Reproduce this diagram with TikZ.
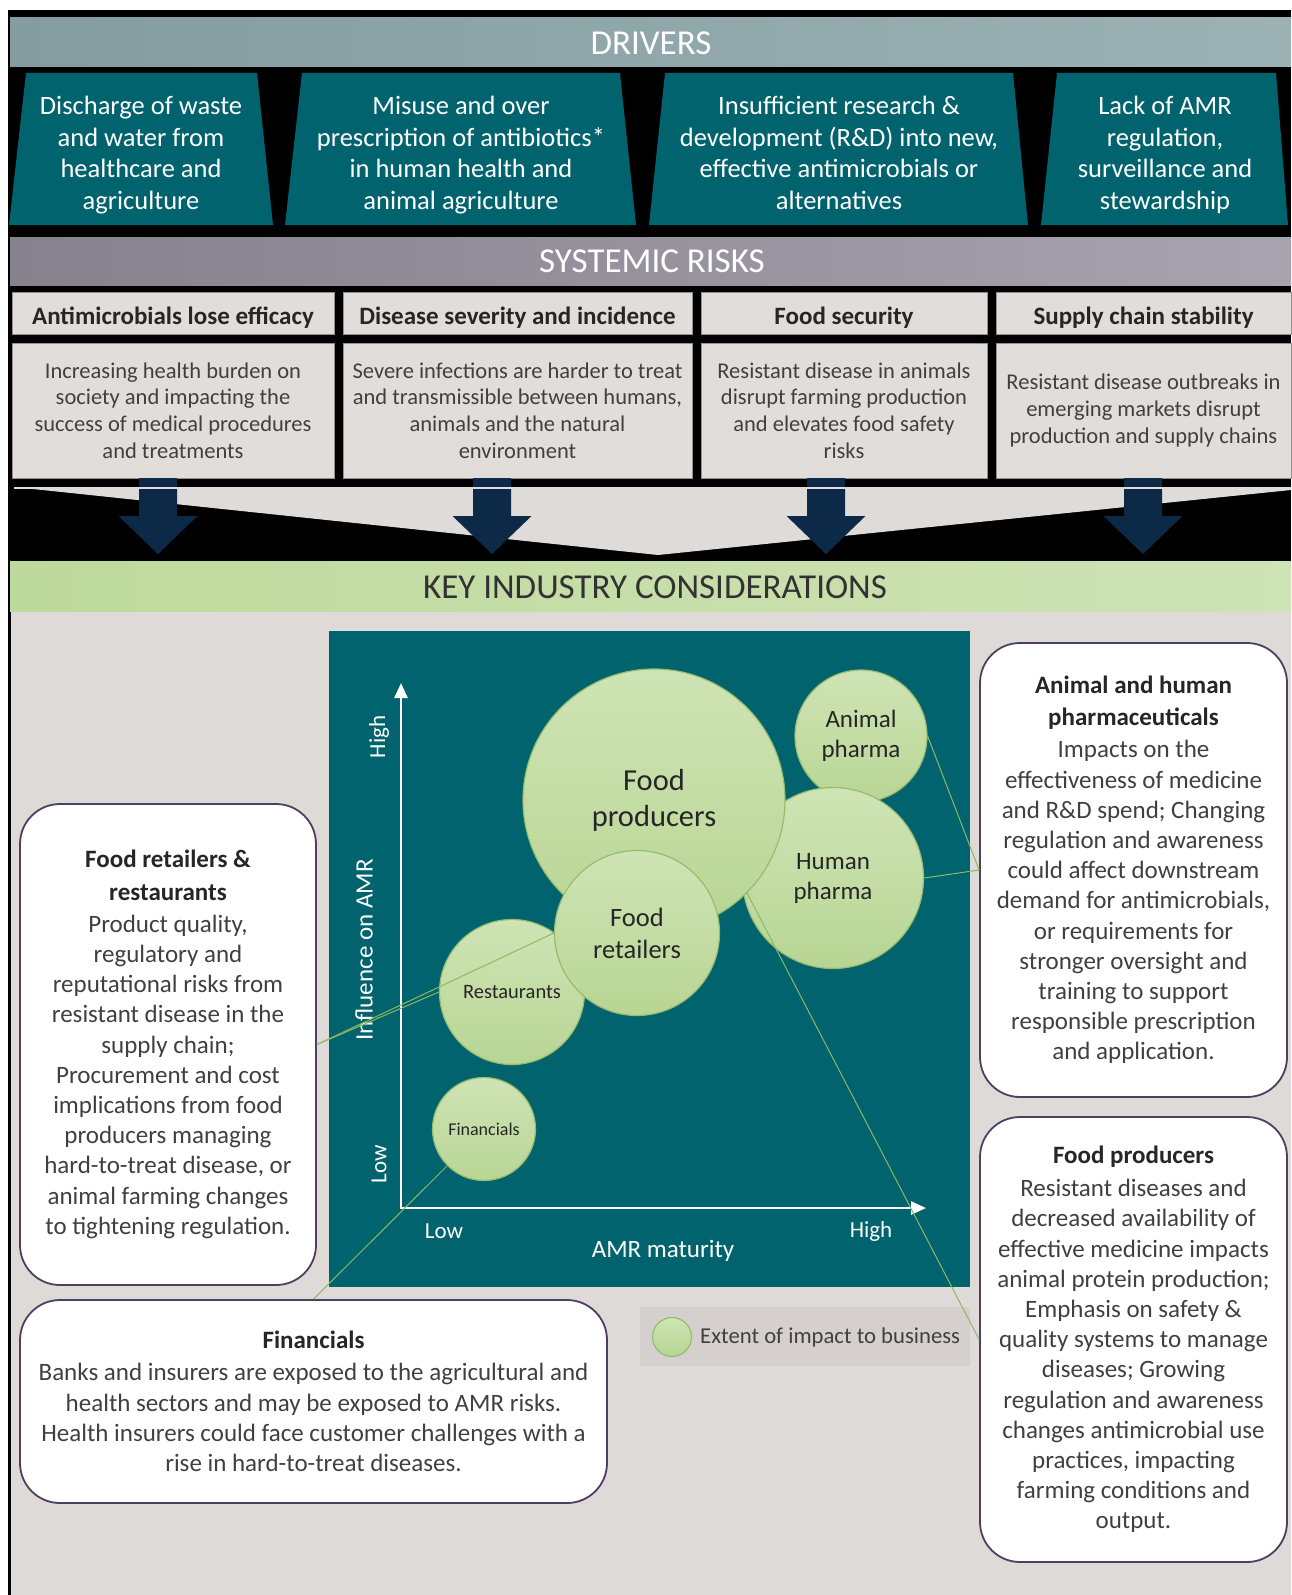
\documentclass[tikz,border=0pt]{standalone}
\usepackage{fontspec}
\setmainfont{Carlito}
\usetikzlibrary{arrows.meta}
\definecolor{teal1}{RGB}{0,99,109}
\definecolor{navy}{RGB}{12,42,72}
\definecolor{bggray}{RGB}{222,218,215}
\definecolor{boxgray}{RGB}{225,221,219}
\definecolor{boxline}{RGB}{150,142,140}
\definecolor{funnelc}{RGB}{223,219,217}
\definecolor{txt}{RGB}{64,64,64}
\definecolor{txtd}{RGB}{38,38,38}
\definecolor{purp}{RGB}{78,62,95}
\definecolor{conn}{RGB}{140,185,100}
\definecolor{circA}{RGB}{207,228,181}
\definecolor{circB}{RGB}{184,213,148}
\definecolor{circL}{RGB}{150,188,110}
\definecolor{drvA}{RGB}{132,156,160}
\definecolor{drvB}{RGB}{156,178,181}
\definecolor{sysA}{RGB}{135,128,141}
\definecolor{sysB}{RGB}{168,163,174}
\definecolor{grnA}{RGB}{190,217,156}
\definecolor{grnB}{RGB}{206,227,182}
\definecolor{legbg}{RGB}{213,208,205}
\newcommand{\myfs}[2]{\fontsize{#1}{#2}\selectfont}
\begin{document}
\begin{tikzpicture}[x=1pt,y=-1pt,
  drvtext/.style={text=white, align=center, font=\myfs{26.5}{31.5}, inner sep=0},
  riskhead/.style={draw=boxline, line width=1pt, fill=boxgray, minimum height=42, text height=22, text depth=0, text=txtd, font=\myfs{25}{28}\bfseries, inner sep=0},
  riskbody/.style={draw=boxline, line width=1pt, fill=boxgray, minimum height=135, text=txt, align=center, font=\myfs{22.5}{26.8}, inner sep=0},
  bubble/.style={circle, draw=circL, line width=1.2pt, top color=circA, bottom color=circB, text=txtd, align=center, inner sep=0},
  infobox/.style={draw=purp, line width=1.8pt, fill=white, rounded corners=40pt, text=txt, align=center, font=\myfs{25}{30.2}, inner sep=0},
  conline/.style={draw=conn, line width=1pt},
  axislbl/.style={text=white, font=\myfs{23}{26}, inner sep=0},
  bartitle/.style={text=white, font=\myfs{35}{38}, inner sep=0},
]
\useasboundingbox (0,0) rectangle (1291,1595);
\fill[white] (0,0) rectangle (1291,1595);
% frame
\fill[black] (8,10) rectangle (1291,1595);
\fill[bggray] (10.5,611) rectangle (1291,1595);

% DRIVERS
\shade[left color=drvA, right color=drvB] (10,18) rectangle (1291,67);
\node[bartitle] (drv) at (651,43) {DRIVERS};
\fill[teal1] (26,73) -- (257,73) -- (273,225) -- (9,225) -- cycle;
\fill[teal1] (302,73) -- (620,73) -- (636,225) -- (285,225) -- cycle;
\fill[teal1] (665,73) -- (1013,73) -- (1028,225) -- (649,225) -- cycle;
\fill[teal1] (1057,73) -- (1276,73) -- (1288,225) -- (1041,225) -- cycle;
\node[drvtext] (d1) at (141,155) {Discharge of waste\\and water from\\healthcare and\\agriculture};
\node[drvtext] (d2) at (461,155) {Misuse and over\\prescription of antibiotics*\\in human health and\\animal agriculture};
\node[drvtext] (d3) at (839,153) {Insufficient research \&\\development (R\&D) into new,\\effective antimicrobials or\\alternatives};
\node[drvtext] (d4) at (1165,155) {Lack of AMR\\regulation,\\surveillance and\\stewardship};

% SYSTEMIC RISKS
\shade[left color=sysA, right color=sysB] (10,237) rectangle (1291,285);
\node[bartitle] (sys) at (652,261) {SYSTEMIC RISKS};
\node[riskhead, minimum width=322] (h1) at (173,313) {Antimicrobials lose efficacy};
\node[riskhead, minimum width=349] (h2) at (517.5,313) {Disease severity and incidence};
\node[riskhead, minimum width=286] (h3) at (844,313) {Food security};
\node[riskhead, minimum width=295] (h4) at (1143.5,313) {Supply chain stability};
\node[riskbody, minimum width=322] (r1) at (173,410.5) {Increasing health burden on\\society and impacting the\\success of medical procedures\\and treatments};
\node[riskbody, minimum width=349] (r2) at (517.5,410.5) {Severe infections are harder to treat\\and transmissible between humans,\\animals and the natural\\environment};
\node[riskbody, minimum width=286] (r3) at (844,410.5) {Resistant disease in animals\\disrupt farming production\\and elevates food safety\\risks};
\node[riskbody, minimum width=295] (r4) at (1143.5,410.5) {Resistant disease outbreaks in\\emerging markets disrupt\\production and supply chains};

% funnel and arrows
\fill[funnelc] (14,487) -- (1291,487) -- (1291,490) -- (658,555) -- cycle;
\foreach \c in {158,492,826,1143}{
  \fill[navy] (\c-19,478) -- (\c+19,478) -- (\c+19,516) -- (\c+39.5,516) -- (\c,554) -- (\c-39.5,516) -- (\c-19,516) -- cycle;
}
\draw[funnelc, line width=2pt] (14,487.5) -- (1291,487.5);

% KEY INDUSTRY
\shade[left color=grnA, right color=grnB] (10,561) rectangle (1291,611);
\node[text={rgb,255:red,50;green,50;blue,50}, font=\myfs{35}{38}, inner sep=0] (kic) at (655,587) {KEY INDUSTRY CONSIDERATIONS};

% chart
\fill[teal1] (329,631) rectangle (970,1287);
\coordinate (ytop) at (401,683);
\coordinate (orig) at (401,1208);
\coordinate (xend) at (926,1208);
\draw[white, line width=2.5pt, line join=miter, {Triangle[width=13pt,length=15pt]}-{Triangle[width=13pt,length=15pt]}] (ytop) -- (orig) -- (xend);
\node[axislbl, rotate=90] (yhigh) at (379,737) {High};
\node[axislbl, rotate=90] (ylow) at (379,1164) {Low};
\node[axislbl, rotate=90, font=\myfs{25}{28}] (yname) at (364,950) {Influence on AMR};
\node[axislbl] (xlow) at (444,1231) {Low};
\node[axislbl] (xhigh) at (871,1231) {High};
\node[axislbl, font=\myfs{25}{28}] (xname) at (663,1251) {AMR maturity};

\node[bubble, minimum size=132, font=\myfs{25}{30}] (ap) at (861,736) {Animal\\pharma};
\node[bubble, minimum size=181, font=\myfs{25}{30}] (hp) at (833,878) {Human\\pharma};
\node[bubble, minimum size=262, font=\myfs{30.5}{36}] (fp) at (654,800) {Food\\producers};
\node[bubble, minimum size=145, font=\myfs{20.5}{22}] (rest) at (512,992) {Restaurants};
\node[bubble, minimum size=165, font=\myfs{26.5}{32}] (fr) at (637,933) {Food\\retailers};
\node[bubble, minimum size=103, font=\myfs{18}{20}] (fin) at (484,1129) {Financials};

% legend
\fill[legbg] (640,1307) rectangle (970,1366);
\node[bubble, minimum size=39] (legc) at (672,1337) {};
\node[text=txt, font=\myfs{22.7}{25}, anchor=west, inner sep=0] (legt) at (700,1337) {Extent of impact to business};

% info boxes
\node[infobox, minimum width=296, minimum height=481] (frr) at (168,1044.5) {\textbf{\textcolor{txtd}{Food retailers \&}}\\[2pt]\textbf{\textcolor{txtd}{restaurants}}\\[2pt]Product quality,\\regulatory and\\reputational risks from\\resistant disease in the\\supply chain;\\Procurement and cost\\implications from food\\producers managing\\hard-to-treat disease, or\\animal farming changes\\to tightening regulation.};
\node[infobox, minimum width=307, minimum height=454] (ahp) at (1133.5,870) {\textbf{\textcolor{txtd}{Animal and human}}\\[2pt]\textbf{\textcolor{txtd}{pharmaceuticals}}\\[2pt]Impacts on the\\effectiveness of medicine\\and R\&D spend; Changing\\regulation and awareness\\could affect downstream\\demand for antimicrobials,\\or requirements for\\stronger oversight and\\training to support\\responsible prescription\\and application.};
\node[infobox, minimum width=307, minimum height=445] (fpb) at (1133.5,1339.5) {\textbf{\textcolor{txtd}{Food producers}}\\[3pt]Resistant diseases and\\decreased availability of\\effective medicine impacts\\animal protein production;\\Emphasis on safety \&\\quality systems to manage\\diseases; Growing\\regulation and awareness\\changes antimicrobial use\\practices, impacting\\farming conditions and\\output.};
\node[infobox, minimum width=587, minimum height=203] (finb) at (313.5,1401.5) {\textbf{\textcolor{txtd}{Financials}}\\[2pt]Banks and insurers are exposed to the agricultural and\\health sectors and may be exposed to AMR risks.\\Health insurers could face customer challenges with a\\rise in hard-to-treat diseases.};

% connectors
\draw[conline] (frr.east) -- (rest.west);
\draw[conline] (frr.east) -- (fr.west);
\draw[conline] (finb.north) -- (fin.south west);
\draw[conline] (ahp.west) -- (ap.east);
\draw[conline] (ahp.west) -- (hp.east);
\draw[conline] (fpb.west) -- (fp.south east);
\end{tikzpicture}
\end{document}
